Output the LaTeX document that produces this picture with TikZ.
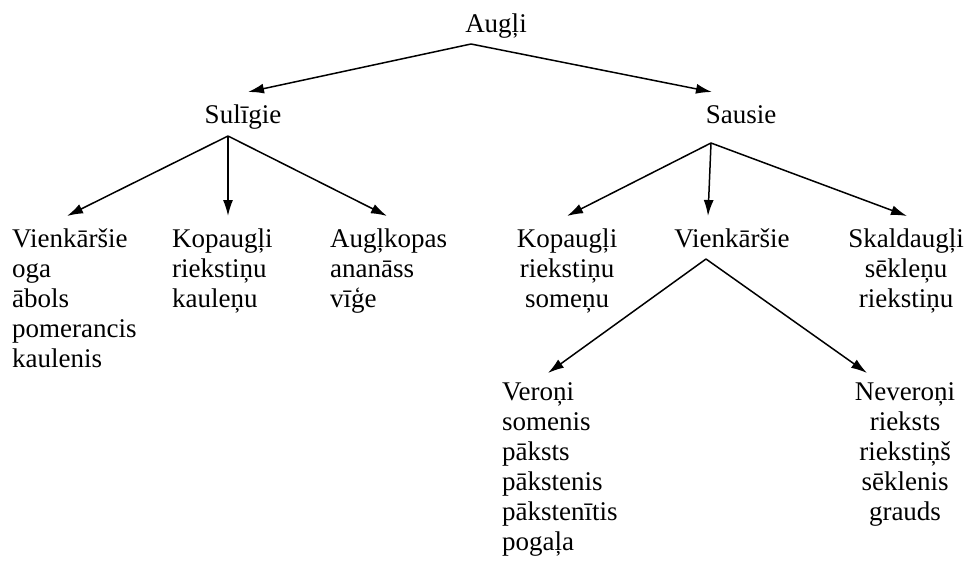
\documentclass[tikz,border=0pt]{standalone}
\usepackage{fontspec}
\setmainfont{Liberation Serif}
\usetikzlibrary{arrows.meta}
\begin{document}
\begin{tikzpicture}[x=1pt,y=-1pt,
  lbl/.style={inner sep=0pt, font=\fontsize{27}{30}\selectfont},
  lcol/.style={lbl, align=left, anchor=base west},
  ccol/.style={lbl, align=center, anchor=base},
  conn/.style={line width=1.5pt, -{Latex[length=16pt,width=10pt]}}]
\useasboundingbox (0,0) rectangle (964,560);
% nodes (anchor = baseline of the last line)
\node[ccol] (augli) at (496,32) {Augļi};
\node[ccol] (suligie) at (243,123) {Sulīgie};
\node[ccol] (sausie) at (741,123) {Sausie};
\node[lcol] (vienk1) at (12,367) {Vienkāršie\\oga\\ābols\\pomerancis\\kaulenis};
\node[lcol] (kopa1) at (172,307) {Kopaugļi\\riekstiņu\\kauleņu};
\node[lcol] (auglk) at (330,307) {Augļkopas\\ananāss\\vīģe};
\node[ccol] (kopa2) at (567,307) {Kopaugļi\\riekstiņu\\someņu};
\node[ccol] (vienk2) at (732,247) {Vienkāršie};
\node[ccol] (skald) at (906,307) {Skaldaugļi\\sēkleņu\\riekstiņu};
\node[lcol] (veroni) at (502,550) {Veroņi\\somenis\\pāksts\\pākstenis\\pākstenītis\\pogaļa};
\node[ccol] (neveroni) at (905,520) {Neveroņi\\rieksts\\riekstiņš\\sēklenis\\grauds};
% connector coordinates
\coordinate (augli-o) at (471,44);
\coordinate (suligie-i) at (248,92);
\coordinate (sausie-i) at (712,92);
\coordinate (suligie-o) at (228,136);
\coordinate (vienk1-i) at (67,216);
\coordinate (kopa1-i) at (228,216);
\coordinate (auglk-i) at (387,216);
\coordinate (sausie-o) at (711,143);
\coordinate (kopa2-i) at (567,216);
\coordinate (vienk2-i) at (708,216);
\coordinate (skald-i) at (907,216);
\coordinate (vienk2-o) at (706,259);
\coordinate (veroni-i) at (548,373);
\coordinate (neveroni-i) at (867,373);
% connectors
\draw[conn] (augli-o) -- (suligie-i);
\draw[conn] (augli-o) -- (sausie-i);
\draw[conn] (suligie-o) -- (vienk1-i);
\draw[conn] (suligie-o) -- (kopa1-i);
\draw[conn] (suligie-o) -- (auglk-i);
\draw[conn] (sausie-o) -- (kopa2-i);
\draw[conn] (sausie-o) -- (vienk2-i);
\draw[conn] (sausie-o) -- (skald-i);
\draw[conn] (vienk2-o) -- (veroni-i);
\draw[conn] (vienk2-o) -- (neveroni-i);
\end{tikzpicture}
\end{document}
